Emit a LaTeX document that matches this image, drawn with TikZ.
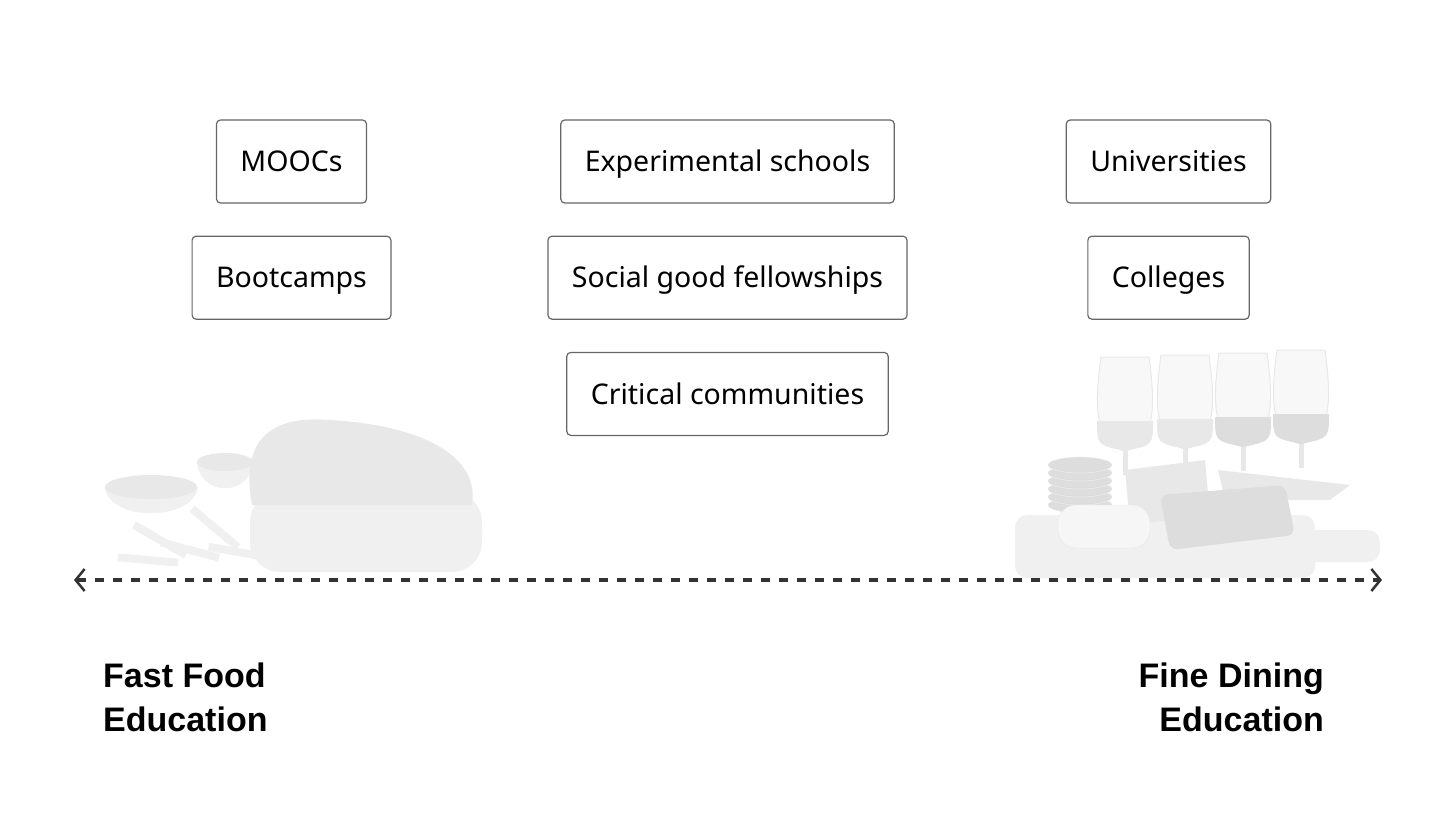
\documentclass[tikz,border=0pt]{standalone}
\usepackage{fontspec}
\setmainfont{Noto Sans}
\newfontfamily\headfont{Liberation Sans}
\usetikzlibrary{positioning,arrows.meta}
\definecolor{boxline}{HTML}{666666}
\definecolor{axisline}{HTML}{333333}
\definecolor{photo}{HTML}{F0F0F0}
\definecolor{photomid}{HTML}{E8E8E8}
\definecolor{photodark}{HTML}{DDDDDD}

\begin{document}
\begin{tikzpicture}[x=1pt, y=-1pt, node distance=32pt,
  item/.style = {draw=boxline, line width=1.2pt, rounded corners=4pt, minimum height=83pt, inner xsep=24pt, text height=20.3pt, text depth=0pt, font=\fontsize{28.5}{32}\selectfont},
  endlabel/.style = {inner sep=0pt, font=\headfont\fontsize{34}{44}\selectfont\bfseries},
  axis/.style = {draw=axisline, line width=3.2pt, dash pattern=on 9pt off 9pt, >={Straight Barb[length=9pt,width=22pt,line width=2.5pt]}, <->}]
\useasboundingbox (0,0) rectangle (1456,819);

% sandwich, left
\fill[photo] (105,487) .. controls (108,522) and (194,522) .. (198,487) -- cycle;
\fill[photomid] (151,487) ellipse [x radius=46, y radius=12];
\fill[photo] (197,462) .. controls (200,497) and (250,497) .. (253,462) -- cycle;
\fill[photomid] (225,462) ellipse [x radius=28, y radius=9];
\foreach \x/\y/\a in {160/540/-30, 190/550/-15, 215/528/-40, 238/552/-10, 148/560/-5}
  \fill[photo, rotate around={\a:(\x,\y)}] (\x-30,\y-4) rectangle (\x+30,\y+4);
\fill[photo, rounded corners=30pt] (250,492) rectangle (482,572);
\fill[photomid] (252,505) .. controls (240,440) and (270,415) .. (330,420) .. controls (420,425) and (480,455) .. (472,505) -- cycle;

% wine and cheese, right
\fill[photo, rounded corners=12pt] (1015,515) rectangle (1315,578);
\fill[photo, rounded corners=12pt] (1300,530) rectangle (1380,562);
\fill[photomid] (1218,470) -- (1350,485) -- (1330,500) -- (1225,500) -- cycle;
\foreach \c/\t/\w in {1125/357/photomid, 1185/355/photomid, 1243/353/photodark, 1301/350/photodark} {
  \filldraw[fill=photo!50!white, draw=photomid, line width=1pt] (\c-24,\t) -- (\c+24,\t) .. controls (\c+30,\t+45) and (\c+32,\t+85) .. (\c,\t+94) .. controls (\c-32,\t+85) and (\c-30,\t+45) .. (\c-24,\t) -- cycle;
  \fill[\w] (\c-28,\t+64) -- (\c+28,\t+64) .. controls (\c+28,\t+88) .. (\c,\t+94) .. controls (\c-28,\t+88) .. (\c-28,\t+64) -- cycle;
  \fill[photomid] (\c-2.5,\t+94) rectangle (\c+2.5,\t+118);
}
\foreach \k in {0,...,5}
  \filldraw[fill=photodark, draw=photo] (1080,505-\k*8) ellipse [x radius=32, y radius=8];
\fill[photomid] (1125,470) -- (1205,460) -- (1210,515) -- (1130,525) -- cycle;
\filldraw[fill=photo!60!white, draw=photomid, rounded corners=18pt] (1058,505) rectangle (1150,548);
\fill[photodark, rounded corners=8pt] (1160,495) -- (1285,485) -- (1295,535) -- (1170,550) -- cycle;

% boxes
\node[item] (moocs) at (291.5,161.5) {MOOCs};
\node[item] (bootcamps) [below=of moocs] {Bootcamps};
\node[item] (experimental) at (727.5,161.5) {Experimental schools};
\node[item] (social) [below=of experimental] {Social good fellowships};
\node[item] (critical) [below=of social] {Critical communities};
\node[item] (universities) at (1168.5,161.5) {Universities};
\node[item] (colleges) [below=of universities] {Colleges};

% axis
\coordinate (fastend) at (74,580);
\coordinate (fineend) at (1382,580);
\draw[axis] (fastend) -- (fineend);

\node[endlabel, align=left, anchor=north west] (fastfood) at (103,663) {Fast Food\\Education};
\node[endlabel, align=right, anchor=north east] (finedining) at (1324,663) {Fine Dining\\Education};
\end{tikzpicture}
\end{document}
